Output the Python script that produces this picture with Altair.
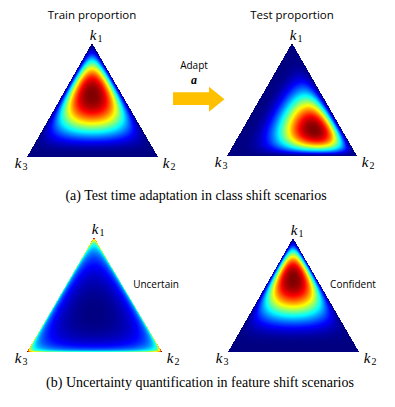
import numpy as np
import pandas as pd
import altair as alt

# ---- data ----
panel_names = ["train", "test", "uncertain", "confident"]
apex_x = [92, 292, 94, 293]
apex_y = [43, 43, 237, 238]
left_x = [27, 227, 27, 228]
right_x = [158, 357, 162, 359]
base_y = [157, 156, 352, 352]
# Dirichlet concentration per panel (k1, k2, k3)
alpha_k1 = [3.6, 2.4, 0.98, 4.5]
alpha_k2 = [2.1, 4.3, 0.98, 2.0]
alpha_k3 = [2.1, 2.3, 0.98, 2.0]
top_flat = [1.3, 1.2, 1.0, 1.3]

panel_titles = ["Train proportion", "Test proportion"]
side_labels = ["Uncertain", "Confident"]
captions = ["(a) Test time adaptation in class shift scenarios",
            "(b) Uncertainty quantification in feature shift scenarios"]

arrow_body_x = [173, 209]
arrow_body_y = [92.3, 105.0]
arrow_head_x = [209, 224.5]
arrow_head_top = [86.7, 99.3]
arrow_head_bot = [111.7, 99.3]

jet_stops = [0, 0.125, 0.375, 0.625, 0.875, 1]
jet_colors = ["#000080", "#0000ff", "#00ffff", "#ffff00", "#ff0000", "#800000"]

frames = []
for p in range(4):
    ax, ay, lx, rx, by = apex_x[p], apex_y[p], left_x[p], right_x[p], base_y[p]
    xs = np.arange(lx - 1, rx + 1)
    ys = np.arange(ay - 1, by + 1)
    X, Y = np.meshgrid(xs, ys)
    cx, cy = X + 0.5, Y + 0.5
    k1 = (by - cy) / (by - ay)
    xl = lx + (ax - lx) * k1
    xr = rx + (ax - rx) * k1
    inside = (k1 >= 0) & (k1 <= 1) & (cx >= xl) & (cx <= xr)
    k2 = (1 - k1) * (cx - xl) / np.maximum(xr - xl, 1e-6)
    k3 = 1 - k1 - k2
    X, Y = X[inside], Y[inside]
    b1 = np.clip(k1[inside], 2e-3, 1)
    b2 = np.clip(k2[inside], 2e-3, 1)
    b3 = np.clip(k3[inside], 2e-3, 1)
    L = (alpha_k1[p] - 1) * np.log(b1) + (alpha_k2[p] - 1) * np.log(b2) + (alpha_k3[p] - 1) * np.log(b3)
    d = np.exp(L - L.max())
    v = (d - d.min()) / (d.max() - d.min())
    v = 1 - (1 - v) ** top_flat[p]
    frames.append(pd.DataFrame({"x": X.astype(int), "y": Y.astype(int), "v": v.round(3)}))
cells = pd.concat(frames, ignore_index=True)

XS = alt.Scale(domain=[8, 387])
YS = alt.Scale(domain=[8, 399], reverse=True)

heat = alt.Chart(cells).transform_calculate(
    x1="datum.x + 1", y1="datum.y + 1",
).mark_rect(strokeWidth=0).encode(
    x=alt.X("x:Q", scale=XS, axis=None),
    x2="x1:Q",
    y=alt.Y("y:Q", scale=YS, axis=None),
    y2="y1:Q",
    color=alt.Color("v:Q", scale=alt.Scale(domain=jet_stops, range=jet_colors, interpolate="rgb"), legend=None),
)

body_df = pd.DataFrame({"x": [arrow_body_x[0]], "x2": [arrow_body_x[1] + 0.5],
                        "y": [arrow_body_y[0]], "y2": [arrow_body_y[1]]})
arrow_body = alt.Chart(body_df).mark_rect(color="#ffc000").encode(
    x=alt.X("x:Q", scale=XS, axis=None), x2="x2:Q",
    y=alt.Y("y:Q", scale=YS, axis=None), y2="y2:Q",
)
head_df = pd.DataFrame({"x": arrow_head_x, "top": arrow_head_top, "bot": arrow_head_bot})
arrow_head = alt.Chart(head_df).mark_area(color="#ffc000", interpolate="linear").encode(
    x=alt.X("x:Q", scale=XS, axis=None),
    y=alt.Y("top:Q", scale=YS, axis=None),
    y2="bot:Q",
)

def text_layer(df, font, size, style="normal", weight="normal", color="black", align="center"):
    return alt.Chart(df).mark_text(font=font, fontSize=size, fontStyle=style, fontWeight=weight,
                                   color=color, align=align, baseline="middle").encode(
        x=alt.X("x:Q", scale=XS, axis=None),
        y=alt.Y("y:Q", scale=YS, axis=None),
        text="t:N",
    )

titles_df = pd.DataFrame({"x": [apex_x[0], apex_x[1]], "y": [16, 16], "t": panel_titles})
side_df = pd.DataFrame({"x": [156, 353], "y": [285, 285], "t": side_labels})
adapt_df = pd.DataFrame({"x": [194], "y": [66], "t": ["Adapt"]})
a_df = pd.DataFrame({"x": [194], "y": [80], "t": ["a"]})
cap_df = pd.DataFrame({"x": [196, 200], "y": [196, 383], "t": captions})

kx, ky, sx, sy, st = [], [], [], [], []
for p in range(4):
    verts = [(apex_x[p] + 1, apex_y[p] - 8, "1"),
             (right_x[p] + 8, base_y[p] + 6, "2"),
             (left_x[p] - 9, base_y[p] + 6, "3")]
    for (vx, vy, s) in verts:
        kx.append(vx); ky.append(vy)
        sx.append(vx + 7); sy.append(vy + 4); st.append(s)
k_df = pd.DataFrame({"x": kx, "y": ky, "t": ["k"] * len(kx)})
sub_df = pd.DataFrame({"x": sx, "y": sy, "t": st})

chart = alt.layer(
    heat,
    arrow_body,
    arrow_head,
    text_layer(titles_df, "Open Sans", 11.5),
    text_layer(side_df, "Open Sans", 10),
    text_layer(adapt_df, "Open Sans", 10),
    text_layer(a_df, "Liberation Serif", 12, style="italic", weight="bold"),
    text_layer(cap_df, "Liberation Serif", 14),
    text_layer(k_df, "Liberation Serif", 15, style="italic"),
    text_layer(sub_df, "Liberation Serif", 10),
).properties(
    width=379, height=391, padding=0, autosize=alt.AutoSizeParams(type="none")
).configure_view(stroke=None)

chart.save("out.html", embed_options={"renderer": "svg", "actions": False})
